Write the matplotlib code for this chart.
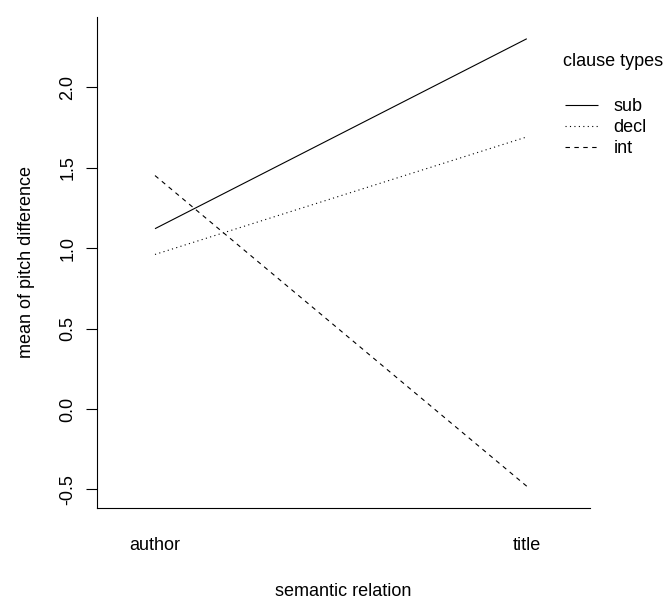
import matplotlib.pyplot as plt

plt.rcParams['font.family'] = ['Liberation Sans', 'DejaVu Sans']

# interaction plot: mean pitch difference by semantic relation and clause type
relations = ["author", "title"]
clause_types = ["sub", "decl", "int"]
sub_means = [1.12, 2.30]
decl_means = [0.96, 1.69]
int_means = [1.45, -0.48]
yticks = [-0.5, 0.0, 0.5, 1.0, 1.5, 2.0]

FS = 13
W, H = 671, 599
fig = plt.figure(figsize=(W / 100, H / 100), dpi=100)
ax = fig.add_axes([97 / W, 1 - 508 / H, (590 - 97) / W, (508 - 17) / H])

x = [1, 2]
styles = [(0, ()), (0, (1, 3)), (0, (4, 4))]
for vals, name, ls in zip([sub_means, decl_means, int_means], clause_types, styles):
    ax.plot(x, vals, color='black', lw=0.8, linestyle=ls, label=name)

ax.set_xlim(0.844, 2.17)
ax.set_ylim(-0.615, 2.435)
ax.set_xticks(x)
ax.set_xticklabels(relations)
ax.set_yticks(yticks)
ax.set_yticklabels([f"{v:.1f}" for v in yticks], rotation=90, va='center')

for s in ['top', 'right']:
    ax.spines[s].set_visible(False)
for s in ['left', 'bottom']:
    ax.spines[s].set_linewidth(0.8)

ax.tick_params(axis='x', length=0, pad=21, labelsize=FS)
ax.tick_params(axis='y', length=8, width=0.8, pad=7, labelsize=FS)

ax.set_xlabel("semantic relation", fontsize=FS)
ax.xaxis.set_label_coords(0.5, -0.17)
ax.xaxis.label.set_va('center')
ax.set_ylabel("mean of pitch difference", fontsize=FS)
ax.yaxis.set_label_coords((27 - 97) / 493, 0.5)
ax.yaxis.label.set_va('center')

fig.text(563 / W, 1 - 61 / H, "clause types", fontsize=FS, ha='left', va='center')
ax.legend(loc='upper left', bbox_to_anchor=(565 / W, 1 - 98 / H),
          bbox_transform=fig.transFigure, frameon=False, fontsize=FS,
          handlelength=1.85, handletextpad=0.85, labelspacing=0.22,
          borderpad=0, borderaxespad=0)

fig.savefig("out.png", dpi=100)
